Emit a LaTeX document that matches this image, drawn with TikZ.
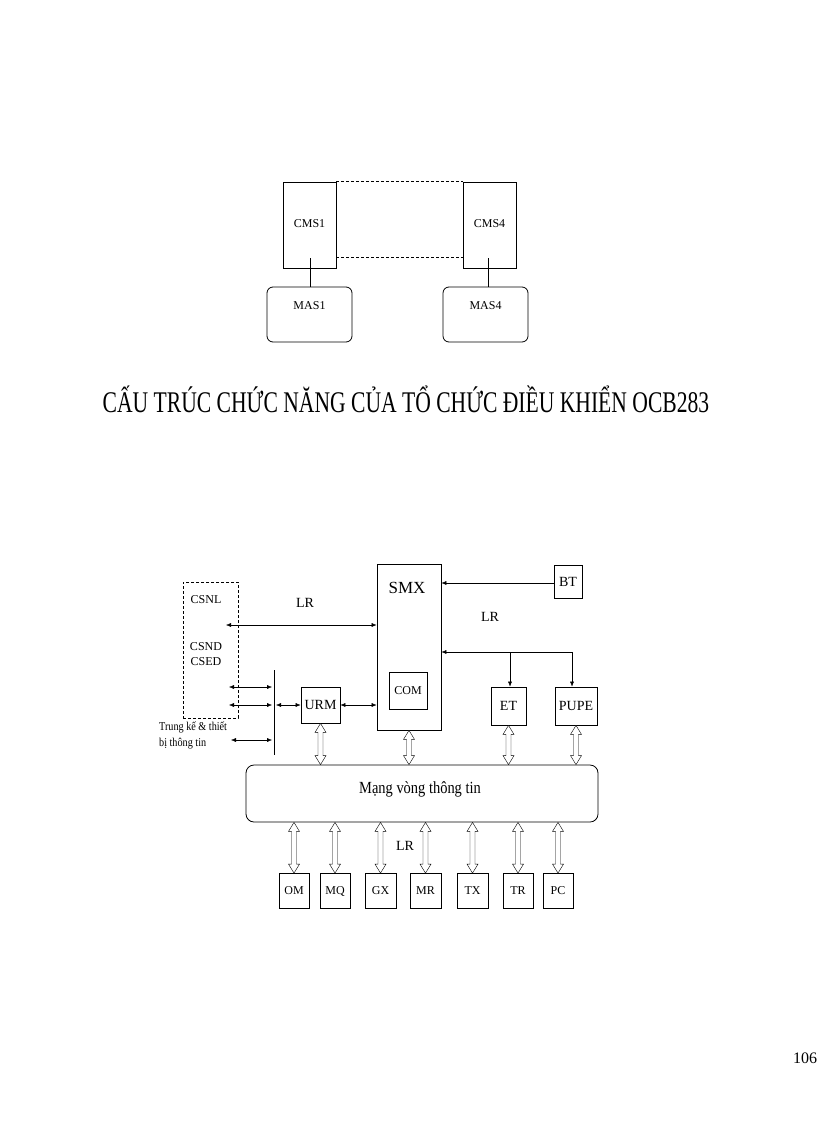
\documentclass[tikz,border=0pt]{standalone}
\usepackage{fontspec}
\setmainfont{Liberation Serif}
\usetikzlibrary{arrows.meta,calc}
\newcommand\dblarr[2]{\path let \p1=(#1), \p2=(#2) in [draw,fill=white,line join=miter]
 (\x1,\y1) -- (\x1-5.5pt,\y1-9pt) -- (\x1-2.5pt,\y1-9pt) -- (\x1-2.5pt,\y2+9pt) -- (\x1-5.5pt,\y2+9pt) -- (\x1,\y2)
 -- (\x1+5.5pt,\y2+9pt) -- (\x1+2.5pt,\y2+9pt) -- (\x1+2.5pt,\y1-9pt) -- (\x1+5.5pt,\y1-9pt) -- cycle;}
\begin{document}
\begin{tikzpicture}[x=1pt,y=-1pt,
 box/.style={draw,thick,inner sep=0pt,font=\fontsize{12}{12}\selectfont},
 rbox/.style={box,rounded corners=6pt},
 lbl/.style={inner sep=0pt,font=\fontsize{12}{12}\selectfont},
 sa/.style={-{Latex[length=5pt,width=4pt]}},
 da/.style={{Latex[length=5pt,width=4pt]}-{Latex[length=5pt,width=4pt]}}]
\useasboundingbox (0,0) rectangle (816,1123);
% top part
\node[box,minimum width=53pt,minimum height=86pt] (cms1) at (309.5,225) {};
\node[lbl] at (309.5,224) {CMS1};
\node[box,minimum width=53pt,minimum height=86pt] (cms4) at (489.5,225) {};
\node[lbl] at (489.5,224) {CMS4};
\draw[densely dashed] (cms1.north east) -- (cms4.north west);
\draw[densely dashed] ([yshift=-76pt]cms1.north east) -- ([yshift=-76pt]cms4.north west);
\node[rbox,minimum width=85pt,minimum height=55pt] (mas1) at (309.5,314.5) {};
\node[lbl] at (309.5,306) {MAS1};
\node[rbox,minimum width=85pt,minimum height=55pt] (mas4) at (485.5,314.5) {};
\node[lbl] at (485.5,306) {MAS4};
\coordinate (c1) at (310,258); \coordinate (c4) at (488,258);
\draw (c1) -- (c1 |- mas1.north);
\draw (c4) -- (c4 |- mas4.north);
\node[inner sep=0pt,xscale=0.72,font=\fontsize{30}{30}\selectfont] (title) at (406,399) {CẤU TRÚC CHỨC NĂNG CỦA TỔ CHỨC ĐIỀU KHIỂN OCB283};
% lower part
\node[draw,densely dashed,minimum width=55pt,minimum height=136pt,inner sep=0pt] (csn) at (210.5,650) {};
\node[lbl] at (206,600) {CSNL};
\node[lbl] at (206,647) {CSND};
\node[lbl] at (206,662) {CSED};
\node[box,minimum width=64pt,minimum height=166pt] (smx) at (409,647) {};
\node[lbl,font=\fontsize{17}{17}\selectfont] at (407,588) {SMX};
\node[box,minimum width=38pt,minimum height=37pt] (com) at (408,690.5) {COM};
\node[box,minimum width=28pt,minimum height=33pt,font=\fontsize{14}{14}\selectfont] (bt) at (568,581.5) {BT};
\node[box,minimum width=35pt,minimum height=38pt,font=\fontsize{14}{14}\selectfont] (et) at (508.5,706) {ET};
\node[box,minimum width=42pt,minimum height=38pt,font=\fontsize{14}{14}\selectfont] (pupe) at (576,706) {PUPE};
\node[box,minimum width=39pt,minimum height=36pt,font=\fontsize{14}{14}\selectfont] (urm) at (320.5,705) {URM};
\node[lbl,font=\fontsize{14}{14}\selectfont] at (305,603) {LR};
\node[lbl,font=\fontsize{14}{14}\selectfont] at (490,617) {LR};
\draw[da] (226,625) -- (smx.west |- 0,625);
\draw[sa] (bt.west |- 0,583) -- (smx.east |- 0,583);
\coordinate (j1) at (510,652); \coordinate (j2) at (572,652);
\draw[sa] (j2) -- (smx.east |- j2);
\draw[sa] (j1) -- (j1 |- et.north);
\draw[sa] (j2) -- (j2 |- pupe.north);
\coordinate (bar1) at (274,670); \coordinate (bar2) at (274,755);
\draw (bar1) -- (bar2);
\draw[da] (229,687) -- (272,687);
\draw[da] (229,705) -- (272,705);
\draw[da] (276,705) -- (urm.west);
\draw[da] (231,740) -- (272,740);
\draw[da] (urm.east) -- (smx.west |- urm.east);
\node[lbl,anchor=west,xscale=0.85,font=\fontsize{12}{12}\selectfont] at (159,727) {Trung kế \& thiết};
\node[lbl,anchor=west,xscale=0.85,font=\fontsize{12}{12}\selectfont] at (159,744) {bị thông tin};
\node[box,rounded corners=8pt,minimum width=352pt,minimum height=57pt] (ring) at (422,793.5) {};
\node[lbl,xscale=0.85,font=\fontsize{17}{17}\selectfont] at (420,789) {Mạng vòng thông tin};
\dblarr{urm.south}{urm.south |- ring.north}
\dblarr{smx.south}{smx.south |- ring.north}
\dblarr{et.south}{et.south |- ring.north}
\dblarr{pupe.south}{pupe.south |- ring.north}
\foreach \b/\x/\w in {OM/294/30,MQ/335/30,GX/380.5/31,MR/425.5/31,TX/472.5/31,TR/518/30,PC/558/30}{
  \node[box,minimum width=\w pt,minimum height=35pt] (\b) at (\x,891) {\b};
  \dblarr{ring.south -| \b.north}{\b.north}
}
\node[lbl,font=\fontsize{14}{14}\selectfont] at (405,846) {LR};
\node[lbl,font=\fontsize{16}{16}\selectfont] (pg) at (805,1058) {106};
\end{tikzpicture}
\end{document}
